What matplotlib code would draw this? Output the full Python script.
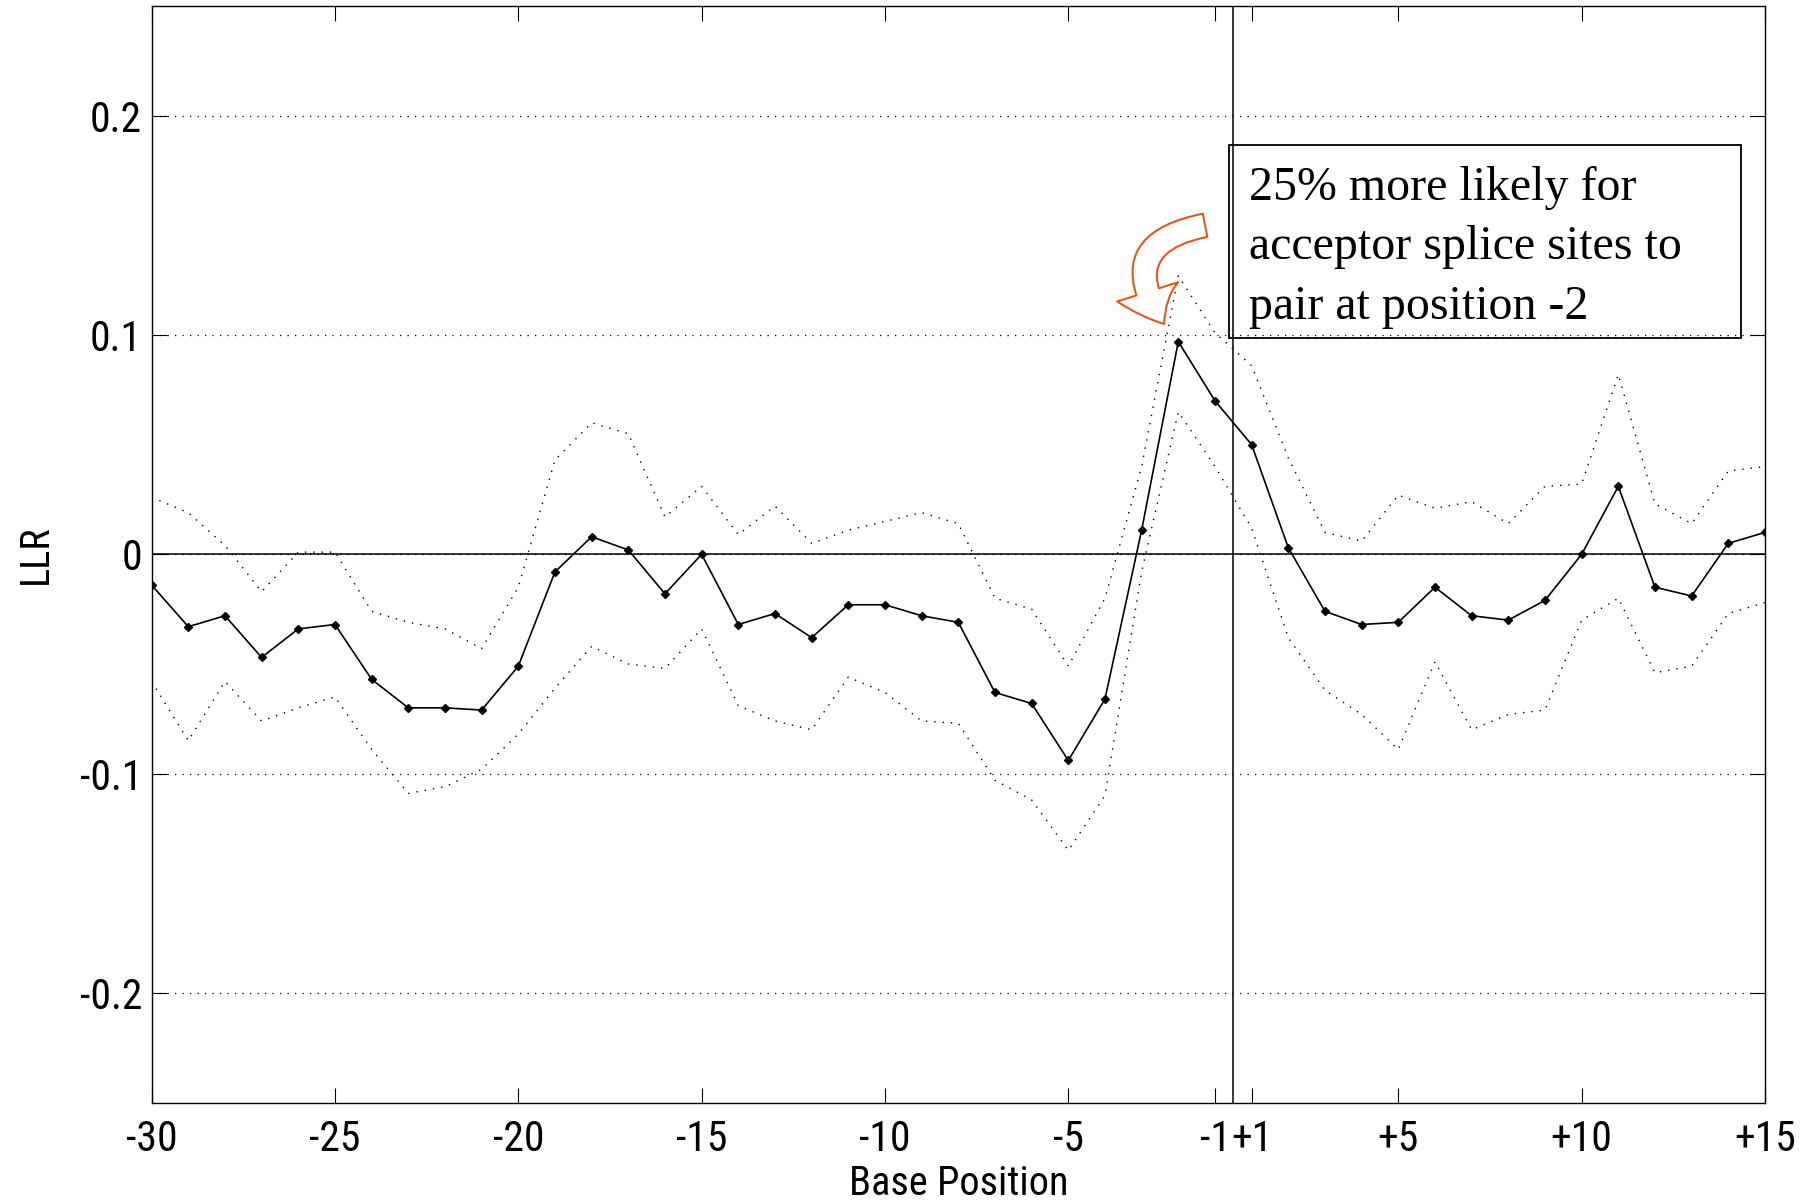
import numpy as np
import matplotlib
matplotlib.use('Agg')
import matplotlib.pyplot as plt
from matplotlib.patches import Rectangle, FancyArrowPatch

# base positions around the splice site (no position 0)
positions = list(range(-30, 0)) + list(range(1, 16))

llr = [-0.014, -0.033, -0.028, -0.047, -0.034, -0.032, -0.057, -0.070, -0.070, -0.071,
       -0.051, -0.008, 0.008, 0.002, -0.018, 0.000, -0.032, -0.027, -0.038, -0.023,
       -0.023, -0.028, -0.031, -0.063, -0.068, -0.094, -0.066, 0.011, 0.097, 0.070,
       0.050, 0.003, -0.026, -0.032, -0.031, -0.015, -0.028, -0.030, -0.021, 0.000,
       0.031, -0.015, -0.019, 0.005, 0.010]

upper = [0.026, 0.019, 0.004, -0.017, 0.001, 0.001, -0.026, -0.031, -0.034, -0.043,
         -0.015, 0.043, 0.060, 0.055, 0.017, 0.031, 0.009, 0.022, 0.005, 0.011,
         0.015, 0.019, 0.014, -0.020, -0.025, -0.051, -0.020, 0.040, 0.127, 0.101,
         0.086, 0.044, 0.010, 0.006, 0.027, 0.021, 0.024, 0.014, 0.031, 0.032,
         0.082, 0.023, 0.014, 0.038, 0.040]

lower = [-0.058, -0.085, -0.058, -0.076, -0.070, -0.065, -0.089, -0.109, -0.106, -0.098,
         -0.082, -0.061, -0.042, -0.050, -0.052, -0.034, -0.069, -0.076, -0.080, -0.056,
         -0.063, -0.076, -0.077, -0.103, -0.112, -0.135, -0.110, -0.008, 0.065, 0.040,
         0.012, -0.038, -0.062, -0.073, -0.089, -0.049, -0.080, -0.073, -0.071, -0.030,
         -0.020, -0.054, -0.051, -0.027, -0.022]

tick_positions = [-30, -25, -20, -15, -10, -5, -1, 1, 5, 10, 15]
y_ticks = [-0.2, -0.1, 0.0, 0.1, 0.2]
y_tick_labels = ['-0.2', '-0.1', '0', '0.1', '0.2']
note_text = "25% more likely for\nacceptor splice sites to\npair at position -2"

NARROW = ['Roboto Condensed', 'Liberation Sans']
SERIF = ['Liberation Serif', 'DejaVu Serif']
DOTS = (0, (1, 5))

x = np.arange(len(positions))
fig = plt.figure(figsize=(18.16, 12.04), dpi=100)
ax = fig.add_axes([0.0835, 0.0842, 0.8884, 0.9108])

ax.plot(x, upper, color='black', lw=1.0, linestyle=DOTS)
ax.plot(x, lower, color='black', lw=1.0, linestyle=DOTS)
ax.plot(x, llr, color='black', lw=1.2, marker='D', markersize=4.5)

ax.axhline(0, color='black', lw=1.1)
# boundary between -1 and +1
ax.axvline(positions.index(-1) + 0.5, color='black', lw=1.1)

ax.set_xlim(0, len(positions) - 1)
ax.set_ylim(-0.25, 0.25)
ax.set_xticks([positions.index(p) for p in tick_positions])
ax.set_xticklabels([f'+{p}' if p > 0 else str(p) for p in tick_positions],
                   family=NARROW, fontsize=30)
ax.set_yticks(y_ticks)
ax.set_yticklabels(y_tick_labels, family=NARROW, fontsize=30)
ax.tick_params(direction='in', length=11, width=0.8, top=True, right=True)
ax.tick_params(axis='x', pad=12)
ax.tick_params(axis='y', pad=7)
ax.yaxis.grid(True, color='black', lw=0.9, linestyle=DOTS)
for s in ax.spines.values():
    s.set_linewidth(1.0)

ax.set_xlabel('Base Position', family=NARROW, fontsize=29, labelpad=3)
ax.set_ylabel('LLR', family=NARROW, fontsize=29, labelpad=18)

# annotation box
fig.patches.append(Rectangle((0.6768, 0.7193), 0.2819, 0.1603, transform=fig.transFigure,
                             fill=False, edgecolor='black', lw=1.3, zorder=5))
fig.text(0.6878, 0.862, note_text, family=SERIF, fontsize=34.5, va='top', ha='left',
         linespacing=1.45)

arrow = FancyArrowPatch((positions.index(-1) - 0.27, 0.150), (positions.index(-2) - 0.39, 0.105),
                        arrowstyle='simple,head_width=46,head_length=26,tail_width=17',
                        connectionstyle='arc3,rad=0.75', mutation_scale=1,
                        facecolor='white', edgecolor='#E2581E', lw=1.5,
                        shrinkA=0, shrinkB=0, zorder=6)
ax.add_patch(arrow)

fig.savefig('out.png', dpi=100)
